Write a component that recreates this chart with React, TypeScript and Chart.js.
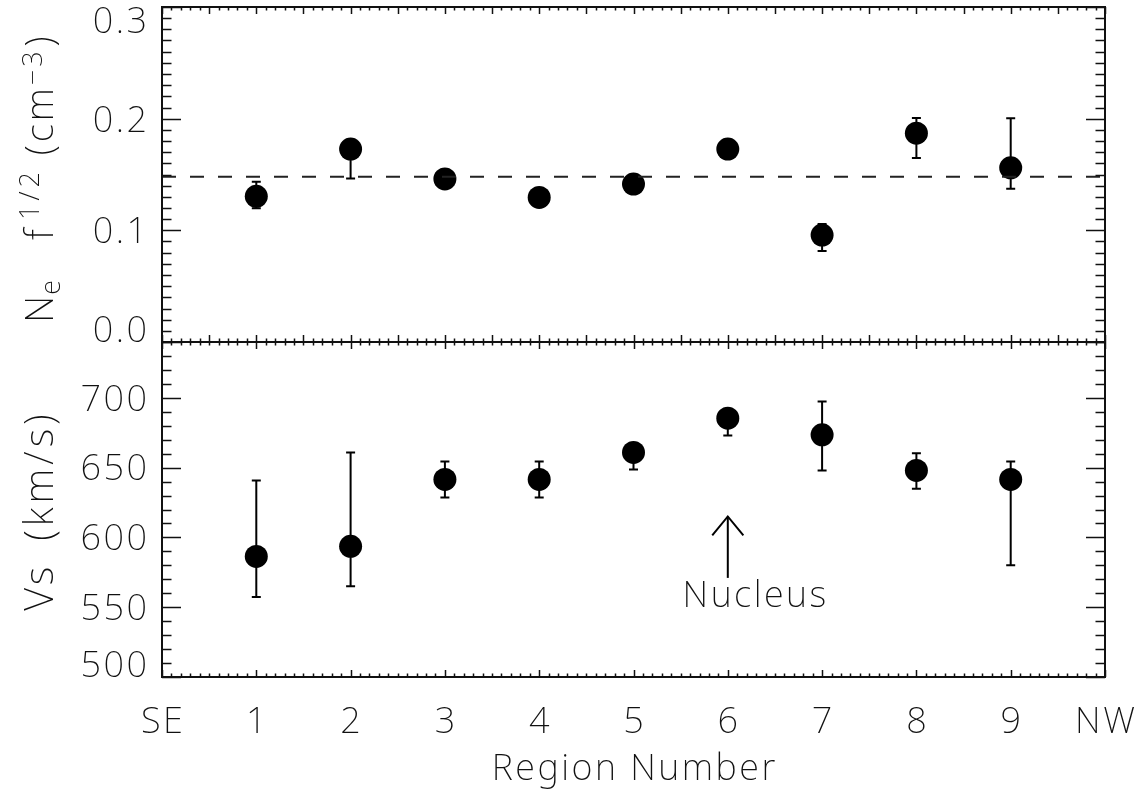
import React, { useEffect, useRef } from 'react';
import { Chart, registerables } from 'chart.js';

Chart.register(...registerables);

// ---------- data ----------
const regions = [1, 2, 3, 4, 5, 6, 7, 8, 9];

// Ne f^1/2 (cm^-3)
const densityValues = [0.1305, 0.1728, 0.1460, 0.1295, 0.1414, 0.1728, 0.0958, 0.1870, 0.1560];
const densityLow = [0.1197, 0.1465, 0.1460, 0.1295, 0.1414, 0.1728, 0.0815, 0.1647, 0.1373];
const densityHigh = [0.1435, 0.1780, 0.1460, 0.1295, 0.1414, 0.1728, 0.1056, 0.2005, 0.2003];
const densityMeanLevel = 0.148;

// Vs (km/s)
const velocityValues = [586.4, 593.6, 641.5, 641.5, 660.9, 685.4, 673.5, 648.0, 641.5];
const velocityLow = [557.3, 565.0, 628.6, 628.6, 648.7, 673.0, 648.0, 634.9, 580.0];
const velocityHigh = [640.8, 660.9, 654.4, 654.4, 660.9, 690.0, 697.4, 660.3, 654.3];

// axis ticks
const xTickValues = [0, 1, 2, 3, 4, 5, 6, 7, 8, 9, 10];
const xTickLabels = ['SE', '1', '2', '3', '4', '5', '6', '7', '8', '9', 'NW'];
const topYTickValues = [0.0, 0.1, 0.2, 0.3];
const topYTickLabels = ['0.0', '0.1', '0.2', '0.3'];
const botYTickValues = [500, 550, 600, 650, 700];
const botYTickLabels = ['500', '550', '600', '650', '700'];

// nucleus annotation (data coordinates of lower panel)
const nucleusShaft = [
  { x: 6, y: 571 },
  { x: 6, y: 615 },
];
const nucleusHead = [
  { x: 5.835, y: 601.4 },
  { x: 6, y: 615 },
  { x: 6.165, y: 601.4 },
];
const nucleusLabel = { text: 'Nucleus', x: 5.52, y: 550 };

const FONT = '"Noto Sans", "DejaVu Sans"';
const WEIGHT = 200;
const LS = 2.5; // extra letter spacing to mimic the wide vector font
const INK = '#111';

function tickRange(min: number, max: number, step: number) {
  const n = Math.round((max - min) / step);
  const out: number[] = [];
  for (let i = 0; i <= n; i++) out.push(min + i * step);
  return out;
}

function isMultiple(v: number, step: number) {
  const r = v / step;
  return Math.abs(r - Math.round(r)) < 1e-6;
}

function setFont(ctx: CanvasRenderingContext2D, size: number, ls: number) {
  ctx.font = `${WEIGHT} ${size}px ${FONT}`;
  (ctx as any).letterSpacing = `${ls}px`;
}

function drawText(ctx: CanvasRenderingContext2D, t: string, x: number, y: number, align: 'left' | 'center' | 'right', ls: number) {
  const w = ctx.measureText(t).width - ls;
  let sx = x;
  if (align === 'center') sx = x - w / 2;
  else if (align === 'right') sx = x - w;
  ctx.textAlign = 'left';
  ctx.fillText(t, sx, y);
}

const framePlugin = {
  id: 'idlFrame',
  beforeDatasetsDraw(chart: any) {
    const ctx = chart.ctx as CanvasRenderingContext2D;
    const xs = chart.scales.x;
    ctx.save();
    ctx.strokeStyle = '#000';
    ctx.lineWidth = 2;
    const drawBars = (ys: any, lo: number[], hi: number[]) => {
      regions.forEach((r, i) => {
        const px = xs.getPixelForValue(r);
        const y1 = ys.getPixelForValue(lo[i]);
        const y2 = ys.getPixelForValue(hi[i]);
        if (Math.abs(y1 - y2) < 1) return;
        ctx.beginPath();
        ctx.moveTo(px, y1);
        ctx.lineTo(px, y2);
        ctx.moveTo(px - 4.5, y1);
        ctx.lineTo(px + 4.5, y1);
        ctx.moveTo(px - 4.5, y2);
        ctx.lineTo(px + 4.5, y2);
        ctx.stroke();
      });
    };
    drawBars(chart.scales.yT, densityLow, densityHigh);
    drawBars(chart.scales.yB, velocityLow, velocityHigh);
    ctx.restore();
  },
  afterDraw(chart: any) {
    const ctx = chart.ctx as CanvasRenderingContext2D;
    const xs = chart.scales.x;
    const panels = [
      { ys: chart.scales.yT, yMajor: 0.1, yMinor: 0.01, xMajor: 0.5, vals: topYTickValues, labs: topYTickLabels },
      { ys: chart.scales.yB, yMajor: 50, yMinor: 10, xMajor: 1, vals: botYTickValues, labs: botYTickLabels },
    ];
    const L = xs.left;
    const R = xs.right;
    ctx.save();
    ctx.strokeStyle = '#111';
    ctx.lineCap = 'butt';
    for (const p of panels) {
      const T = p.ys.top;
      const B = p.ys.bottom;
      ctx.lineWidth = 2;
      ctx.strokeRect(L, T, R - L, B - T);
      ctx.lineWidth = 1.5;
      ctx.beginPath();
      for (const v of tickRange(p.ys.min, p.ys.max, p.yMinor)) {
        const py = Math.round(p.ys.getPixelForValue(v)) + 0.5;
        const len = isMultiple(v, p.yMajor) ? 19 : 9.5;
        ctx.moveTo(L, py);
        ctx.lineTo(L + len, py);
        ctx.moveTo(R, py);
        ctx.lineTo(R - len, py);
      }
      for (const v of tickRange(xs.min, xs.max, 0.1)) {
        const px = Math.round(xs.getPixelForValue(v)) + 0.5;
        const len = isMultiple(v, p.xMajor) ? 7 : 3.5;
        ctx.moveTo(px, T);
        ctx.lineTo(px, T + len);
        ctx.moveTo(px, B);
        ctx.lineTo(px, B - len);
      }
      ctx.stroke();
    }
    ctx.restore();

    const fs = 36;
    const capH = fs * 0.714;
    ctx.save();
    ctx.fillStyle = INK;
    ctx.textBaseline = 'alphabetic';
    setFont(ctx, fs, LS);
    for (const p of panels) {
      p.vals.forEach((v, i) => {
        const py = p.ys.getPixelForValue(v);
        let base = py + capH / 2;
        if (Math.abs(v - p.ys.min) < 1e-9) base = py;
        else if (Math.abs(v - p.ys.max) < 1e-9) base = py + capH;
        drawText(ctx, p.labs[i], L - 15, base, 'right', LS);
      });
    }
    xTickValues.forEach((v, i) => {
      drawText(ctx, xTickLabels[i], xs.getPixelForValue(v), xs.top + 56, 'center', LS);
    });
    drawText(ctx, 'Region Number', (L + R) / 2, xs.top + 103, 'center', LS);

    const yB = chart.scales.yB;
    drawText(ctx, nucleusLabel.text, xs.getPixelForValue(nucleusLabel.x), yB.getPixelForValue(nucleusLabel.y), 'left', LS);

    // y titles (rotated)
    const baseX = 53;
    type Piece = { t: string; size: number; shift: number; gapAfter: number; ls: number };
    const drawRotated = (pieces: Piece[], centerY: number) => {
      const widths = pieces.map((pc) => {
        setFont(ctx, pc.size, pc.ls);
        return ctx.measureText(pc.t).width - pc.ls;
      });
      const total = widths.reduce((a, w, i) => a + w + pieces[i].gapAfter, 0) - pieces[pieces.length - 1].gapAfter;
      ctx.save();
      ctx.translate(baseX, centerY);
      ctx.rotate(-Math.PI / 2);
      ctx.textAlign = 'left';
      let cx = -total / 2;
      pieces.forEach((pc, i) => {
        setFont(ctx, pc.size, pc.ls);
        ctx.fillText(pc.t, cx, pc.shift);
        cx += widths[i] + pc.gapAfter;
      });
      ctx.restore();
    };
    const yT = chart.scales.yT;
    drawRotated(
      [
        { t: 'N', size: 38, shift: 0, gapAfter: 1, ls: 0 },
        { t: 'e', size: 27, shift: 7, gapAfter: 40, ls: 0 },
        { t: 'f', size: 38, shift: 0, gapAfter: 9, ls: 0 },
        { t: '1/2', size: 27, shift: -14, gapAfter: 17, ls: 4 },
        { t: '(cm', size: 38, shift: 0, gapAfter: 3, ls: 3 },
        { t: '\u2212' + '3', size: 27, shift: -11, gapAfter: 5, ls: 3 },
        { t: ')', size: 38, shift: 0, gapAfter: 0, ls: 0 },
      ],
      (yT.top + yT.bottom) / 2 + 5
    );
    drawRotated(
      [
        { t: 'Vs', size: 40, shift: 0, gapAfter: 26, ls: 3 },
        { t: '(km/s)', size: 40, shift: 0, gapAfter: 0, ls: 4 },
      ],
      (yB.top + yB.bottom) / 2 + 3
    );
    ctx.restore();
  },
};

export default function App() {
  const ref = useRef<HTMLCanvasElement | null>(null);
  useEffect(() => {
    document.body.style.margin = '0';
    const canvas = ref.current;
    if (!canvas) return;
    const hidden = {
      ticks: { display: false },
      grid: { display: false },
      border: { display: false },
    };
    const chart = new Chart(canvas, {
      type: 'scatter',
      data: {
        datasets: [
          {
            label: 'mean',
            data: [
              { x: 0, y: densityMeanLevel },
              { x: 10, y: densityMeanLevel },
            ],
            yAxisID: 'yT',
            showLine: true,
            borderColor: '#222',
            borderWidth: 2,
            borderDash: [14, 14],
            pointRadius: 0,
          },
          {
            label: 'density',
            data: regions.map((r, i) => ({ x: r, y: densityValues[i] })),
            yAxisID: 'yT',
            pointRadius: 11.5,
            pointStyle: 'circle',
            backgroundColor: '#000',
            borderWidth: 0,
          },
          {
            label: 'velocity',
            data: regions.map((r, i) => ({ x: r, y: velocityValues[i] })),
            yAxisID: 'yB',
            pointRadius: 11.5,
            pointStyle: 'circle',
            backgroundColor: '#000',
            borderWidth: 0,
          },
          {
            label: 'shaft',
            data: nucleusShaft,
            yAxisID: 'yB',
            showLine: true,
            borderColor: '#000',
            borderWidth: 2,
            pointRadius: 0,
          },
          {
            label: 'head',
            data: nucleusHead,
            yAxisID: 'yB',
            showLine: true,
            borderColor: '#000',
            borderWidth: 2,
            pointRadius: 0,
          },
        ],
      },
      options: {
        animation: false,
        responsive: false,
        devicePixelRatio: 1,
        events: [],
        layout: { autoPadding: false, padding: { top: 7, right: 36, bottom: 0, left: 0 } },
        plugins: {
          legend: { display: false },
          tooltip: { enabled: false },
          title: { display: false },
        },
        scales: {
          x: {
            type: 'linear',
            position: 'bottom',
            min: 0,
            max: 10,
            ...hidden,
            afterFit: (s: any) => {
              s.height = 118;
            },
          },
          yT: {
            type: 'linear',
            position: 'left',
            min: 0,
            max: 0.3,
            stack: 'panels',
            stackWeight: 1,
            weight: 2,
            ...hidden,
            afterFit: (s: any) => {
              s.width = 162;
            },
          },
          yB: {
            type: 'linear',
            position: 'left',
            min: 500,
            max: 740,
            stack: 'panels',
            stackWeight: 1,
            weight: 1,
            ...hidden,
            afterFit: (s: any) => {
              s.width = 162;
            },
          },
        },
      } as any,
      plugins: [framePlugin],
    });
    return () => chart.destroy();
  }, []);
  return (
    <div style={{ position: 'fixed', left: 0, top: 0, width: 1141, height: 795, background: '#fff' }}>
      <canvas ref={ref} width={1141} height={795} style={{ display: 'block', width: 1141, height: 795 }} />
    </div>
  );
}
